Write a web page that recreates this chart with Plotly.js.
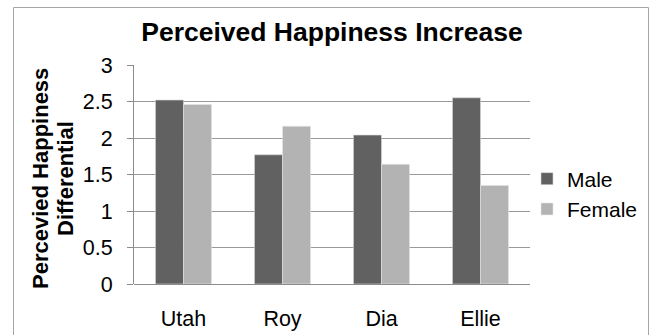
<!DOCTYPE html>
<html>
<head>
<meta charset="utf-8">
<script src="https://cdn.plot.ly/plotly-3.0.1.min.js"></script>
<style>
  html, body { margin: 0; padding: 0; background: #ffffff; }
  #chart { width: 650px; height: 335px; }
</style>
</head>
<body>
<div id="chart"></div>
<script>
// Perceived happiness differential by location, split by gender
const locations = ["Utah", "Roy", "Dia", "Ellie"];
const maleValues = [2.52, 1.77, 2.04, 2.55];
const femaleValues = [2.46, 2.16, 1.64, 1.35];
const yTickValues = [0, 0.5, 1, 1.5, 2, 2.5, 3];
const yTickLabels = ["0", "0.5", "1", "1.5", "2", "2.5", "3"];

const FONT = "Arial, 'Liberation Sans', sans-serif";

// plot area in pixels (used to place the rotated axis caption lines)
const W = 650, H = 335;
const M = { l: 134, r: 120, t: 65, b: 51, autoexpand: false };
const plotW = W - M.l - M.r;
const plotH = H - M.t - M.b;
const px = x => (x - M.l) / plotW;
const py = y => (H - M.b - y) / plotH;

const traces = [
  {
    type: "bar",
    name: "Male",
    x: locations,
    y: maleValues,
    marker: { color: "#616161", line: { color: "#d6d6d6", width: 0.6 } }
  },
  {
    type: "bar",
    name: "Female",
    x: locations,
    y: femaleValues,
    marker: { color: "#b3b3b3", line: { color: "#e6e6e6", width: 0.6 } }
  }
];

const layout = {
  width: W,
  height: H,
  margin: M,
  paper_bgcolor: "#ffffff",
  plot_bgcolor: "#ffffff",
  font: { family: FONT, color: "#000000", size: 21 },
  title: {
    text: "<b>Perceived Happiness Increase</b>",
    font: { family: FONT, size: 26.5, color: "#000000" },
    x: 0.5,
    xref: "paper",
    xanchor: "center",
    y: 1 - 32 / H,
    yref: "container",
    yanchor: "middle"
  },
  barmode: "group",
  bargap: 0.434,
  bargroupgap: 0,
  showlegend: true,
  legend: {
    x: px(527),
    xanchor: "left",
    y: py(194),
    yanchor: "middle",
    font: { family: FONT, size: 21, color: "#000000" },
    bgcolor: "rgba(0,0,0,0)",
    borderwidth: 0,
    traceorder: "normal"
  },
  xaxis: {
    type: "category",
    showgrid: false,
    showline: false,
    zeroline: false,
    ticks: "outside",
    ticklen: 15,
    tickcolor: "rgba(0,0,0,0)",
    tickfont: { family: FONT, size: 21.5, color: "#000000" },
    fixedrange: true
  },
  yaxis: {
    range: [0, 3],
    tickvals: yTickValues,
    ticktext: yTickLabels,
    showgrid: true,
    gridcolor: "#999999",
    gridwidth: 1,
    showline: true,
    linecolor: "#8c8c8c",
    linewidth: 1,
    zeroline: true,
    zerolinecolor: "#8c8c8c",
    zerolinewidth: 1,
    ticks: "outside",
    ticklen: 6,
    tickcolor: "#8c8c8c",
    ticklabelstandoff: 10,
    tickfont: { family: FONT, size: 21.5, color: "#000000" },
    fixedrange: true
  },
  annotations: [
    {
      text: "<b>Percevied Happiness</b>",
      xref: "paper", yref: "paper",
      x: px(40), y: py(179),
      xanchor: "center", yanchor: "middle",
      textangle: -90,
      showarrow: false,
      font: { family: FONT, size: 22, color: "#000000" }
    },
    {
      text: "<b>Differential</b>",
      xref: "paper", yref: "paper",
      x: px(65), y: py(179),
      xanchor: "center", yanchor: "middle",
      textangle: -90,
      showarrow: false,
      font: { family: FONT, size: 22, color: "#000000" }
    }
  ],
  shapes: [
    {
      // chart frame
      type: "rect",
      xref: "paper", yref: "paper",
      x0: px(13.5), x1: px(648.5),
      y0: py(345), y1: py(7.5),
      line: { color: "#a6a6a6", width: 1 },
      fillcolor: "rgba(0,0,0,0)",
      layer: "below"
    }
  ]
};

Plotly.newPlot("chart", traces, layout, { displayModeBar: false, staticPlot: true });
</script>
</body>
</html>
